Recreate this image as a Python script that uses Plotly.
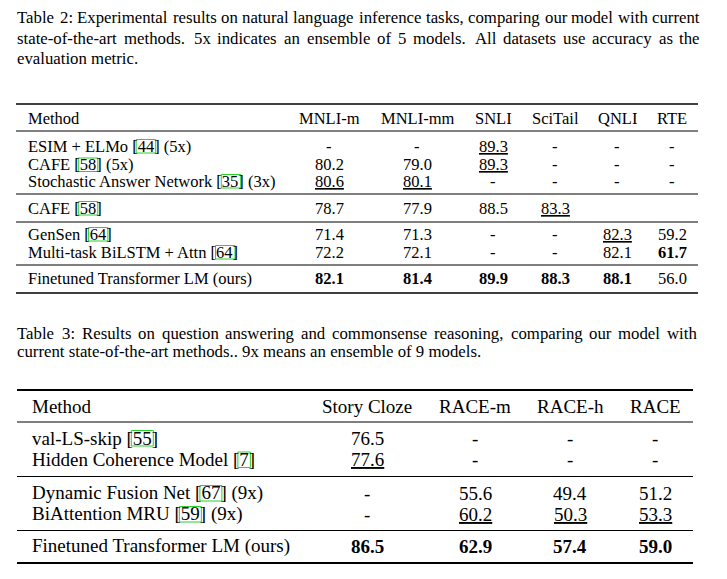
import re
import plotly.graph_objects as go

# ---------------- data ----------------
t2_caption_lines = [
    "Table 2: Experimental results on natural language inference tasks, comparing our model with current",
    "state-of-the-art methods.  5x indicates an ensemble of 5 models.  All datasets use accuracy as the",
    "evaluation metric.",
]
t2_columns = ["MNLI-m", "MNLI-mm", "SNLI", "SciTail", "QNLI", "RTE"]
t2_methods = [
    "ESIM + ELMo [44] (5x)",
    "CAFE [58] (5x)",
    "Stochastic Answer Network [35] (3x)",
    "CAFE [58]",
    "GenSen [64]",
    "Multi-task BiLSTM + Attn [64]",
    "Finetuned Transformer LM (ours)",
]
t2_mnli_m = ["-", "80.2", "80.6", "78.7", "71.4", "72.2", "82.1"]
t2_mnli_mm = ["-", "79.0", "80.1", "77.9", "71.3", "72.1", "81.4"]
t2_snli = ["89.3", "89.3", "-", "88.5", "-", "-", "89.9"]
t2_scitail = ["-", "-", "-", "83.3", "-", "-", "88.3"]
t2_qnli = ["-", "-", "-", "", "82.3", "82.1", "88.1"]
t2_rte = ["-", "-", "-", "", "59.2", "61.7", "56.0"]
t2_values = [t2_mnli_m, t2_mnli_mm, t2_snli, t2_scitail, t2_qnli, t2_rte]
# (row, column) marks
t2_underlined = [(2, 0), (2, 1), (0, 2), (1, 2), (3, 3), (4, 4)]
t2_bold = [(6, 0), (6, 1), (6, 2), (6, 3), (6, 4), (5, 5)]

t3_caption_lines = [
    "Table 3: Results on question answering and commonsense reasoning, comparing our model with",
    "current state-of-the-art methods.. 9x means an ensemble of 9 models.",
]
t3_columns = ["Story Cloze", "RACE-m", "RACE-h", "RACE"]
t3_methods = [
    "val-LS-skip [55]",
    "Hidden Coherence Model [7]",
    "Dynamic Fusion Net [67] (9x)",
    "BiAttention MRU [59] (9x)",
    "Finetuned Transformer LM (ours)",
]
t3_story_cloze = ["76.5", "77.6", "-", "-", "86.5"]
t3_race_m = ["-", "-", "55.6", "60.2", "62.9"]
t3_race_h = ["-", "-", "49.4", "50.3", "57.4"]
t3_race = ["-", "-", "51.2", "53.3", "59.0"]
t3_values = [t3_story_cloze, t3_race_m, t3_race_h, t3_race]
t3_underlined = [(1, 0), (3, 1), (3, 2), (3, 3)]
t3_bold = [(4, 0), (4, 1), (4, 2), (4, 3)]

# ---------------- layout / style ----------------
W, H = 727, 579
FONT = "Liberation Serif, Times New Roman, serif"
CAP_FS = 16.8
T2_FS = 16.5
T3_FS = 19
CITE_COLOR = "rgb(40,210,40)"

# Times-compatible advance widths (1/1000 em)
TIMES = {' ': 250, '!': 333, '(': 333, ')': 333, '+': 564, ',': 250, '-': 333, '.': 250,
         ':': 278, '[': 333, ']': 333, '0': 500, '1': 500, '2': 500, '3': 500, '4': 500,
         '5': 500, '6': 500, '7': 500, '8': 500, '9': 500,
         'A': 722, 'B': 667, 'C': 667, 'D': 722, 'E': 611, 'F': 556, 'G': 722, 'H': 722,
         'I': 333, 'J': 389, 'K': 722, 'L': 611, 'M': 889, 'N': 722, 'O': 722, 'P': 556,
         'Q': 722, 'R': 667, 'S': 556, 'T': 611, 'U': 722, 'V': 722, 'W': 944, 'X': 722,
         'Y': 722, 'Z': 611,
         'a': 444, 'b': 500, 'c': 444, 'd': 500, 'e': 444, 'f': 333, 'g': 500, 'h': 500,
         'i': 278, 'j': 278, 'k': 500, 'l': 278, 'm': 778, 'n': 500, 'o': 500, 'p': 500,
         'q': 500, 'r': 333, 's': 389, 't': 278, 'u': 500, 'v': 500, 'w': 722, 'x': 500,
         'y': 500, 'z': 444}


def tw(s, fs):
    return sum(TIMES.get(c, 500) for c in s) / 1000.0 * fs


annotations = []
shapes = []


def add_text(x, y, text, fs, anchor="left", color="black"):
    annotations.append(dict(
        x=x, y=y, xref="x", yref="y", text=text, showarrow=False,
        xanchor=anchor, yanchor="middle", borderpad=0, borderwidth=0,
        font=dict(family=FONT, size=fs, color=color)))


def add_rule(x0, x1, y, width):
    shapes.append(dict(type="line", xref="x", yref="y", x0=x0, x1=x1, y0=y, y1=y,
                       line=dict(color="black", width=width)))


def caption(lines, x0, x1, ys, fs):
    for li, (line, y) in enumerate(zip(lines, ys)):
        if li == len(lines) - 1:
            add_text(x0, y, line.replace("  ", " "), fs)
            continue
        words = line.split()
        ww = [tw(w, fs) for w in words]
        gaps = [(0.25 + (0.12 if words[i].endswith('.') else 0)) * fs for i in range(len(words) - 1)]
        extra = (x1 - x0) - sum(ww) - sum(gaps)
        add = extra / len(gaps)
        x = x0
        for i, w in enumerate(words):
            add_text(x, y, w, fs)
            x += ww[i]
            if i < len(gaps):
                x += gaps[i] + add


def method_cell(x, y, text, fs, half_h):
    add_text(x, y, text, fs)
    for m in re.finditer(r"\[(\d+)\]", text):
        pre = text[:m.start()]
        xs = x + tw(pre + "[", fs)
        xe = xs + tw(m.group(1), fs)
        shapes.append(dict(type="rect", xref="x", yref="y", x0=xs - 1.5, x1=xe + 1.5,
                           y0=y - half_h, y1=y + half_h + 0.5,
                           line=dict(color=CITE_COLOR, width=1)))


def fmt(v, r, c, und, bold):
    s = v
    if (r, c) in bold:
        s = "<b>" + s + "</b>"
    if (r, c) in und:
        s = "<u>" + s + "</u>"
    return s


# ---- Table 2 ----
caption(t2_caption_lines, 17, 700, [17.5, 38, 58], CAP_FS)
t2_left, t2_right = 16, 698
t2_text_x = 28
t2_col_x = [329, 417, 493, 555, 617, 672]
t2_header_y = 118
t2_row_y = [146, 164.5, 181, 208, 234, 252, 278]
t2_rules = [(104, 1.3), (131, 1.0), (194, 1.0), (222, 1.0), (265, 1.0), (293, 1.3)]
for y, lw in t2_rules:
    add_rule(t2_left, t2_right, y, lw)
add_text(t2_text_x, t2_header_y, "Method", T2_FS)
for cx, name in zip(t2_col_x, t2_columns):
    add_text(cx, t2_header_y, name, T2_FS, anchor="center")
for r, (m, y) in enumerate(zip(t2_methods, t2_row_y)):
    method_cell(t2_text_x, y, m, T2_FS, 6.5)
    for c, col in enumerate(t2_values):
        if col[r]:
            add_text(t2_col_x[c], y, fmt(col[r], r, c, t2_underlined, t2_bold), T2_FS, anchor="center")

# ---- Table 3 ----
caption(t3_caption_lines, 17, 697, [333, 351], CAP_FS)
t3_left, t3_right = 17, 693
t3_text_x = 32
t3_col_x = [367, 475, 570, 655]
t3_header_y = 406
t3_row_y = [438, 459.5, 493, 514, 546]
t3_rules = [(390, 2.2), (422, 1.0), (476.5, 1.0), (530.5, 1.0), (563, 2.2)]
for y, lw in t3_rules:
    add_rule(t3_left, t3_right, y, lw)
add_text(t3_text_x, t3_header_y, "Method", T3_FS)
for cx, name in zip(t3_col_x, t3_columns):
    add_text(cx, t3_header_y, name, T3_FS, anchor="center")
for r, (m, y) in enumerate(zip(t3_methods, t3_row_y)):
    method_cell(t3_text_x, y, m, T3_FS, 7.5)
    for c, col in enumerate(t3_values):
        if col[r]:
            add_text(t3_col_x[c], y, fmt(col[r], r, c, t3_underlined, t3_bold), T3_FS, anchor="center")

fig = go.Figure()
fig.update_layout(
    width=W, height=H,
    margin=dict(l=0, r=0, t=0, b=0),
    paper_bgcolor="white", plot_bgcolor="white",
    xaxis=dict(range=[0, W], visible=False, fixedrange=True),
    yaxis=dict(range=[H, 0], visible=False, fixedrange=True),
    annotations=annotations, shapes=shapes, showlegend=False,
)
fig.write_html("out.html", config={"displayModeBar": False})

# remove the browser's default page margin so the figure sits at the window's corner
with open("out.html", encoding="utf-8") as f:
    html = f.read()
html = html.replace("<head>", "<head><style>html,body{margin:0;padding:0;overflow:hidden;}</style>", 1)
with open("out.html", "w", encoding="utf-8") as f:
    f.write(html)
